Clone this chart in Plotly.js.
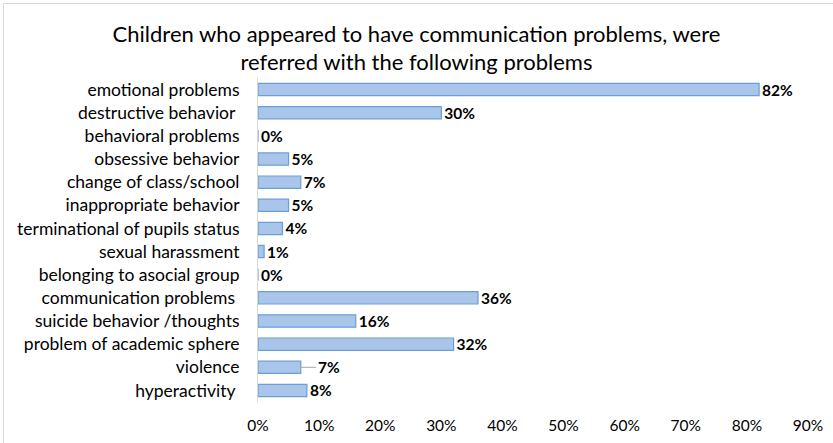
<!DOCTYPE html>
<html>
<head>
<meta charset="utf-8">
<script src="https://cdn.plot.ly/plotly-3.0.1.min.js"></script>
<style>
  html, body { margin: 0; padding: 0; background: #ffffff; }
  #frame { position: absolute; left: 0; top: 0; width: 833px; height: 443px; overflow: hidden; }
  #border { position: absolute; left: 3px; top: 3px; width: 840px; height: 450px;
            border-top: 1px solid #d9d9d9; border-left: 1px solid #d9d9d9; pointer-events: none; }
  #chart { position: absolute; left: 0; top: 0; width: 833px; height: 443px; }
</style>
</head>
<body>
<div id="frame">
  <div id="chart"></div>
  <div id="border"></div>
</div>
<script>
// Categories, top to bottom as in the reference
const categories = [
  "emotional problems",
  "destructive behavior ",
  "behavioral problems",
  "obsessive behavior",
  "change of class/school",
  "inappropriate behavior",
  "terminational of pupils status",
  "sexual harassment",
  "belonging to asocial group",
  "communication problems ",
  "suicide behavior /thoughts",
  "problem of academic sphere",
  "violence",
  "hyperactivity "
];
// Percentages
const values = [82, 30, 0, 5, 7, 5, 4, 1, 0, 36, 16, 32, 7, 8];
const tickVals = [0, 10, 20, 30, 40, 50, 60, 70, 80, 90];
const tickText = ["0%", "10%", "20%", "30%", "40%", "50%", "60%", "70%", "80%", "90%"];
// Category whose label is pulled away with a leader line (as in the reference)
const leaderCategory = "violence";

const labelFont = { family: "Lato, 'Open Sans', sans-serif", size: 15.5, color: "#000000", weight: "bold" };
const labels = values.map((v, i) => categories[i] === leaderCategory ? "" : v + "%");

const trace = {
  type: "bar",
  orientation: "h",
  y: categories,
  x: values,
  text: labels,
  textposition: "outside",
  constraintext: "none",
  cliponaxis: false,
  textfont: labelFont,
  marker: { color: "#a9c6ea", line: { color: "#6a9fd8", width: 1.2 } },
  hoverinfo: "none"
};

const annotations = categories
  .map((c, i) => ({ c, i }))
  .filter(o => o.c === leaderCategory)
  .map(o => ({
    x: values[o.i], y: o.c, xref: "x", yref: "y",
    text: values[o.i] + "%",
    font: labelFont,
    showarrow: true, arrowhead: 0, arrowwidth: 1, arrowcolor: "#a6a6a6",
    ax: 28, ay: 0, xanchor: "center", standoff: 0, startstandoff: 0
  }));

const layout = {
  width: 833,
  height: 443,
  margin: { l: 258, r: 25, t: 78, b: 41, pad: 0 },
  paper_bgcolor: "#ffffff",
  plot_bgcolor: "#ffffff",
  bargap: 0.47,
  showlegend: false,
  font: { family: "Lato, 'Open Sans', sans-serif", size: 15, color: "#000000" },
  title: {
    text: "Children who appeared to have communication problems, were<br>referred with the following problems",
    font: { family: "Lato, 'Open Sans', sans-serif", size: 22, color: "#000000" },
    x: 0.5, xref: "container", xanchor: "center",
    y: 0.906, yref: "container", yanchor: "middle"
  },
  annotations: annotations,
  xaxis: {
    range: [0, 90],
    tickvals: tickVals,
    ticktext: tickText,
    showgrid: false,
    zeroline: false,
    showline: false,
    ticks: "",
    ticklabelstandoff: 12,
    tickfont: { size: 15.5, color: "#000000" },
    fixedrange: true
  },
  yaxis: {
    type: "category",
    autorange: "reversed",
    showgrid: false,
    zeroline: false,
    showline: true,
    linecolor: "#d9d9d9",
    linewidth: 1,
    ticks: "",
    ticklabelstandoff: 14,
    tickfont: { size: 17.5, color: "#000000" },
    fixedrange: true
  }
};

Plotly.newPlot("chart", [trace], layout, { displayModeBar: false, staticPlot: true });
</script>
</body>
</html>
